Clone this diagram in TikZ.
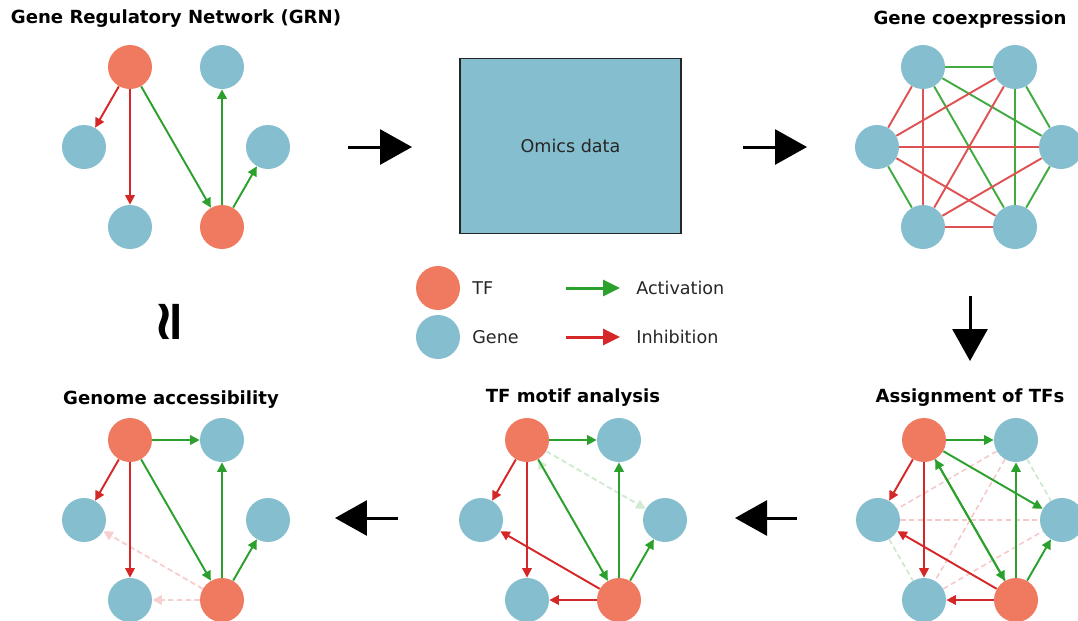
\documentclass[tikz,border=0pt]{standalone}
\usepackage{fontspec}
\setmainfont{DejaVu Sans}
\usepackage{tikz}
\usetikzlibrary{arrows.meta}

\definecolor{tfcol}{HTML}{F07A60}
\definecolor{genecol}{HTML}{85BECE}
\definecolor{actcol}{HTML}{2CA02C}
\definecolor{inhcol}{HTML}{D62728}

\begin{document}
\begin{tikzpicture}[x=0.02cm,y=-0.02cm,>={Triangle[length=1.9mm,width=1.9mm]},
                    tf node/.style={circle,fill=tfcol,minimum size=8.8mm,inner sep=0pt},
                    gene node/.style={circle,fill=genecol,minimum size=8.8mm,inner sep=0pt},
                    title/.style={font=\fontsize{10.3}{12}\selectfont\bfseries},
                    label text/.style={font=\fontsize{10}{12}\selectfont,text=black!85,inner sep=0pt},
                    act/.style={->,draw=actcol,line width=1.1pt},
                    inh/.style={->,draw=inhcol,line width=1.1pt},
                    faint act/.style={->,draw=actcol!22,fill=actcol!22,line width=1.1pt,dash pattern=on 3pt off 2pt},
                    faint inh/.style={->,draw=inhcol!22,fill=inhcol!22,line width=1.1pt,dash pattern=on 3pt off 2pt},
                    coex act/.style={draw=actcol!90,line width=1.1pt},
                    coex inh/.style={draw=inhcol!80,line width=1.1pt},
                    pale act/.style={draw=actcol!25,line width=0.9pt,dash pattern=on 3pt off 2pt},
                    pale inh/.style={draw=inhcol!25,line width=0.9pt,dash pattern=on 3pt off 2pt},
                    flow/.style={-{Triangle[length=6.4mm,width=7mm]},line width=1.7pt,black}]
  \useasboundingbox (0,0) rectangle (1078,620);

  % gene regulatory network
  \node[title] (grntitle) at (176,19) {Gene Regulatory Network (GRN)};
  \node[tf node] (grn1) at (130,67) {};
  \node[gene node] (grn2) at (222,67) {};
  \node[gene node] (grn3) at (268,147) {};
  \node[tf node] (grn4) at (222,227) {};
  \node[gene node] (grn5) at (130,227) {};
  \node[gene node] (grn6) at (84,147) {};
  \path
    (grn1) edge [inh] (grn6)
           edge [inh] (grn5)
           edge [act] (grn4)
    (grn4) edge [act] (grn2)
           edge [act] (grn3);

  % omics data
  \node[draw=black!85,line width=0.9pt,fill=genecol,minimum width=4.42cm,minimum height=3.5cm,
        label text] (omics) at (570.5,146) {Omics data};

  % gene coexpression
  \node[title] (coextitle) at (970,19) {Gene coexpression};
  \node[gene node] (coex1) at (923,67) {};
  \node[gene node] (coex2) at (1015,67) {};
  \node[gene node] (coex3) at (1061,147) {};
  \node[gene node] (coex4) at (1015,227) {};
  \node[gene node] (coex5) at (923,227) {};
  \node[gene node] (coex6) at (877,147) {};
  \path
    (coex1) edge [coex act] (coex2)
            edge [coex inh] (coex6)
            edge [coex inh] (coex5)
            edge [coex act] (coex4)
            edge [coex act] (coex3)
    (coex2) edge [coex inh] (coex6)
            edge [coex inh] (coex5)
            edge [coex act] (coex4)
            edge [coex act] (coex3)
    (coex6) edge [coex inh] (coex3)
            edge [coex act] (coex5)
            edge [coex inh] (coex4)
    (coex5) edge [coex inh] (coex4)
            edge [coex inh] (coex3)
    (coex4) edge [coex act] (coex3);

  % legend
  \node[tf node] (legtf) at (438,288) {};
  \node[gene node] (leggene) at (438,337) {};
  \node[label text,anchor=west] (legtftext) at (472,288) {TF};
  \node[label text,anchor=west] (leggenetext) at (472,337) {Gene};
  \coordinate (legactstart) at (566,288);
  \coordinate (legactend) at (620,288);
  \coordinate (leginhstart) at (566,337);
  \coordinate (leginhend) at (620,337);
  \draw[actcol,line width=1.7pt,-{Triangle[length=3.4mm,width=3.2mm]}] (legactstart) -- (legactend);
  \draw[inhcol,line width=1.7pt,-{Triangle[length=3.4mm,width=3.2mm]}] (leginhstart) -- (leginhend);
  \node[label text,anchor=west] (legacttext) at (636,288) {Activation};
  \node[label text,anchor=west] (leginhtext) at (636,337) {Inhibition};

  % steps between the panels
  \coordinate (step1a) at (348,147);
  \coordinate (step1b) at (412,147);
  \coordinate (step2a) at (743,147);
  \coordinate (step2b) at (807,147);
  \coordinate (step3a) at (970,296);
  \coordinate (step3b) at (970,361);
  \coordinate (step4a) at (797,518);
  \coordinate (step4b) at (735,518);
  \coordinate (step5a) at (398,518);
  \coordinate (step5b) at (335,518);
  \draw[flow] (step1a) -- (step1b);
  \draw[flow] (step2a) -- (step2b);
  \draw[flow] (step3a) -- (step3b);
  \draw[flow] (step4a) -- (step4b);
  \draw[flow] (step5a) -- (step5b);
  \node[font=\fontsize{32}{32}\selectfont\bfseries,rotate=90] (approx) at (173,322) {≃};

  % assignment of TFs
  \node[title] (assigntitle) at (970,398) {Assignment of TFs};
  \node[tf node] (assign1) at (924,440) {};
  \node[gene node] (assign2) at (1016,440) {};
  \node[gene node] (assign3) at (1062,520) {};
  \node[tf node] (assign4) at (1016,600) {};
  \node[gene node] (assign5) at (924,600) {};
  \node[gene node] (assign6) at (878,520) {};
  \path
    (assign2) edge [pale inh] (assign6)
              edge [pale inh] (assign5)
              edge [pale act] (assign3)
    (assign6) edge [pale inh] (assign3)
              edge [pale act] (assign5)
    (assign5) edge [pale inh] (assign3);
  \path
    (assign1) edge [act] (assign2)
              edge [act] (assign3)
              edge [inh] (assign6)
              edge [inh] (assign5)
              edge [act] (assign4)
    (assign4) edge [act] (assign1)
              edge [act] (assign2)
              edge [act] (assign3)
              edge [inh] (assign6)
              edge [inh] (assign5);

  % TF motif analysis
  \node[title] (motiftitle) at (573,398) {TF motif analysis};
  \node[tf node] (motif1) at (527,440) {};
  \node[gene node] (motif2) at (619,440) {};
  \node[gene node] (motif3) at (665,520) {};
  \node[tf node] (motif4) at (619,600) {};
  \node[gene node] (motif5) at (527,600) {};
  \node[gene node] (motif6) at (481,520) {};
  \path
    (motif1) edge [faint act] (motif3)
    (motif4) edge [faint act] (motif1);
  \path
    (motif1) edge [act] (motif2)
             edge [inh] (motif6)
             edge [inh] (motif5)
             edge [act] (motif4)
    (motif4) edge [act] (motif2)
             edge [act] (motif3)
             edge [inh] (motif6)
             edge [inh] (motif5);

  % genome accessibility
  \node[title] (acctitle) at (171,400) {Genome accessibility};
  \node[tf node] (acc1) at (130,440) {};
  \node[gene node] (acc2) at (222,440) {};
  \node[gene node] (acc3) at (268,520) {};
  \node[tf node] (acc4) at (222,600) {};
  \node[gene node] (acc5) at (130,600) {};
  \node[gene node] (acc6) at (84,520) {};
  \path
    (acc4) edge [faint inh] (acc6)
           edge [faint inh] (acc5);
  \path
    (acc1) edge [act] (acc2)
           edge [inh] (acc6)
           edge [inh] (acc5)
           edge [act] (acc4)
    (acc4) edge [act] (acc2)
           edge [act] (acc3);
\end{tikzpicture}
\end{document}
